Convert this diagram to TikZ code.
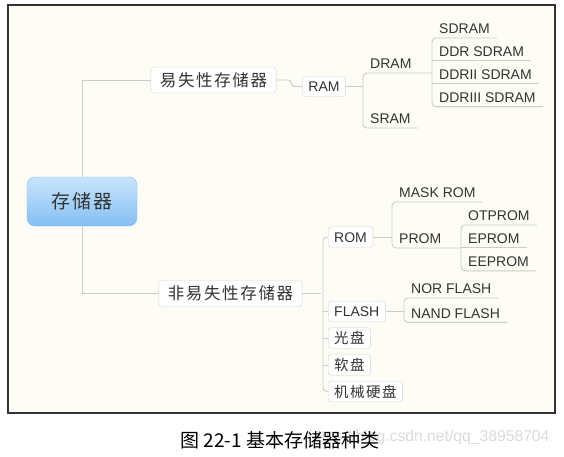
\documentclass[tikz,border=0pt]{standalone}
\usepackage{fontspec}
\setmainfont{Liberation Sans}
\newfontfamily\cjk[LetterSpace=10]{Noto Sans CJK SC}
\newfontfamily\cjkplain{Noto Sans CJK SC}
\usetikzlibrary{positioning, calc}
\definecolor{paper}{HTML}{FDFCF5}
\definecolor{edge}{HTML}{CCCCCC}
\definecolor{boxline}{HTML}{D4D4D4}
\definecolor{ink}{HTML}{333333}
\definecolor{rootlight}{HTML}{C9E5FC}
\definecolor{rootdark}{HTML}{84BFF3}

\begin{document}
\begin{tikzpicture}[x=1pt, y=-1pt,
    conn/.style={draw=edge, line width=0.9pt},
    topic/.style={draw=boxline, fill=white, rounded corners=3pt, text=ink, inner xsep=6pt, inner ysep=0pt, minimum height=20.5pt, font=\fontsize{14}{16}\selectfont, text height=10pt, text depth=0pt},
    cntopic/.style={topic, font=\cjk\fontsize{14.5}{16}\selectfont, text height=12.5pt, text depth=1.5pt},
    maintopic/.style={topic, font=\cjk\fontsize{16.5}{18}\selectfont, minimum height=26pt, inner xsep=9pt, text height=14.5pt, text depth=2pt},
    leaf/.style={anchor=south west, text=ink, inner xsep=7pt, inner ysep=4pt, font=\fontsize{14}{16}\selectfont, text height=10pt, text depth=0pt},
]

    \fill[white] (0,0) rectangle (564,457);
    \useasboundingbox (0,0) rectangle (564,457);
    \draw[line width=1.6pt, draw=black!80, fill=paper] (8,5) rectangle (555,413);

    % root and first level
    \node (root) [draw=rootdark, top color=rootlight, bottom color=rootdark, rounded corners=8pt, minimum width=110pt, minimum height=49pt, text=ink, font=\cjk\fontsize{19}{22}\selectfont, text height=16.5pt, text depth=2pt] at (82,201.5) {存储器};
    \node (vol) [maintopic] at (213.5,80) {易失性存储器};
    \node (nonvol) [maintopic] at (230.5,293.5) {非易失性存储器};

    % volatile branch
    \node (ram) [topic] at (324,86.5) {RAM};
    \node (dram) [leaf] at (363,73) {DRAM};
    \node (sram) [leaf] at (363,128) {SRAM};
    \node (sdram) [leaf] at (432,38) {SDRAM};
    \node (ddr) [leaf, below=4.5pt of sdram.south west, anchor=north west] {DDR SDRAM};
    \node (ddr2) [leaf, below=4.5pt of ddr.south west, anchor=north west] {DDRII SDRAM};
    \node (ddr3) [leaf, below=4.5pt of ddr2.south west, anchor=north west] {DDRIII SDRAM};

    % non-volatile branch
    \node (rom) [topic, anchor=west] at (328,237) {ROM};
    \node (flash) [topic, anchor=west] at (328,311.5) {FLASH};
    \node (guang) [cntopic, anchor=west] at (328,338) {光盘};
    \node (ruan) [cntopic, anchor=west] at (328,365) {软盘};
    \node (jixie) [cntopic, anchor=west] at (328,391.5) {机械硬盘};
    \node (maskrom) [leaf] at (392,202) {MASK ROM};
    \node (prom) [leaf] at (392,248) {PROM};
    \node (otprom) [leaf] at (461,225) {OTPROM};
    \node (eprom) [leaf, below=4.5pt of otprom.south west, anchor=north west] {EPROM};
    \node (eeprom) [leaf, below=4.5pt of eprom.south west, anchor=north west] {EEPROM};
    \node (nor) [leaf] at (404,298) {NOR FLASH};
    \node (nand) [leaf, below=6pt of nor.south west, anchor=north west] {NAND FLASH};

    % connectors
    \draw[conn] (root.north) |- (vol.west);
    \draw[conn] (root.south) |- (nonvol.west);

    \draw[conn, rounded corners=3pt] (vol.east) -- ++(15,0) |- (ram.west);
    \draw[conn] (ram.east) -- (ram.east -| dram.south west);
    \draw[conn, rounded corners=4pt] (dram.south -| sdram.south west) -- (dram.south west) -- (sram.south west) -- (sram.south east);
    \draw[conn, rounded corners=4pt] (sdram.south east) -- (sdram.south west) -- (ddr3.south west) -- (ddr3.south east);
    \foreach \n in {ddr, ddr2}
        \draw[conn] (\n.south west) -- (\n.south east);

    \draw[conn] (nonvol.east) -- ++(19,0);
    \draw[conn, rounded corners=4pt] (rom.west) -- ++(-5,0) |- (jixie.west);
    \foreach \n in {flash, guang, ruan}
        \draw[conn] (\n.west) -- ++(-5,0);

    \draw[conn] (rom.east) -- (rom.east -| maskrom.south west);
    \draw[conn, rounded corners=4pt] (maskrom.south east) -- (maskrom.south west) -- (prom.south west) -- (prom.south -| otprom.south west);
    \draw[conn, rounded corners=4pt] (otprom.south east) -- (otprom.south west) -- (eeprom.south west) -- (eeprom.south east);
    \draw[conn] (eprom.south west) -- (eprom.south east);
    \draw[conn] (flash.east) -- (flash.east -| nor.south west);
    \draw[conn, rounded corners=4pt] (nor.south east) -- (nor.south west) -- (nand.south west) -- (nand.south east);

    % caption
    \node (mark) [anchor=east, text=black!14, font=\fontsize{15.7}{18}\selectfont] at (553,437) {https://blog.csdn.net/qq\_38958704};
    \node (caption) [anchor=west, text=black, font=\cjkplain\fontsize{19}{22}\selectfont] at (177,440) {图 22-1 基本存储器种类};

\end{tikzpicture}
\end{document}
